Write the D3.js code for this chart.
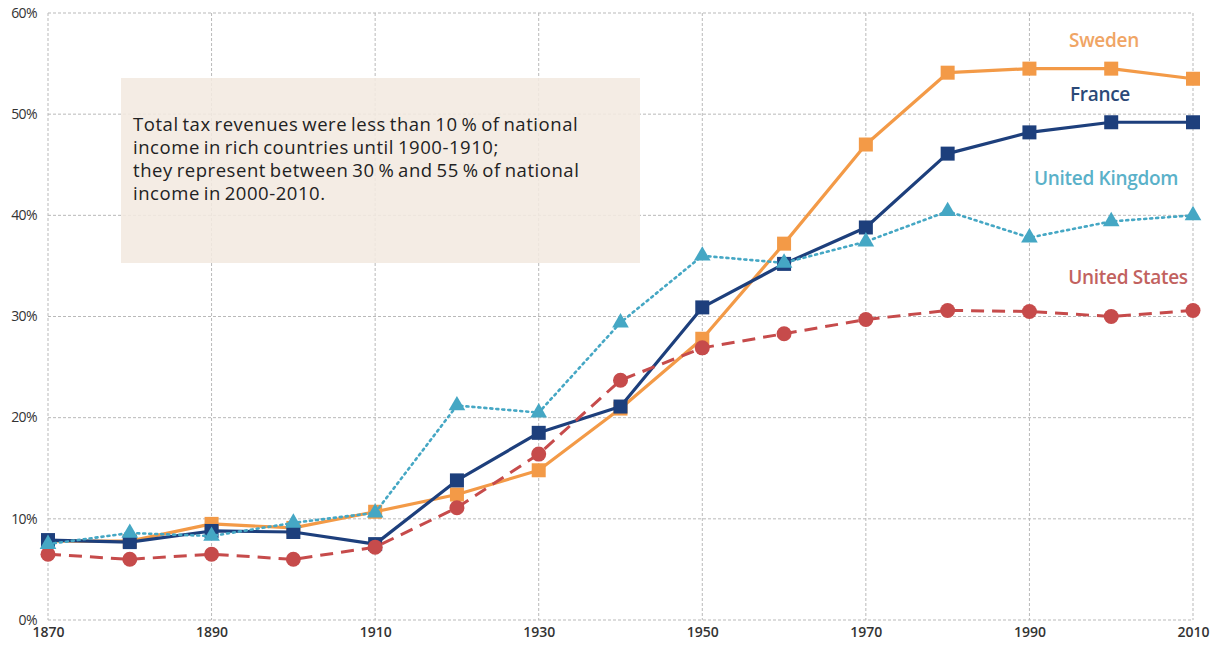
<!DOCTYPE html>
<html>
<head>
<meta charset="utf-8">
<script src="https://cdn.jsdelivr.net/npm/d3@7"></script>
<style>
  html, body { margin: 0; padding: 0; background: #fff; }
  svg { display: block; }
</style>
</head>
<body>
<svg id="chart" width="1211" height="648"></svg>
<script>
// Total tax revenues as a share of national income, 1870-2010
const years = [1870, 1880, 1890, 1900, 1910, 1920, 1930, 1940, 1950, 1960, 1970, 1980, 1990, 2000, 2010];
const sweden = [7.8, 7.8, 9.5, 9.1, 10.7, 12.4, 14.8, 20.9, 27.8, 37.2, 47.0, 54.1, 54.5, 54.5, 53.5];
const france = [7.9, 7.7, 8.8, 8.7, 7.5, 13.8, 18.5, 21.1, 30.9, 35.2, 38.8, 46.1, 48.2, 49.2, 49.2];
const unitedKingdom = [7.5, 8.6, 8.3, 9.6, 10.6, 21.2, 20.5, 29.4, 36.0, 35.3, 37.4, 40.4, 37.8, 39.4, 40.0];
const unitedStates = [6.5, 6.0, 6.5, 6.0, 7.2, 11.1, 16.4, 23.7, 26.9, 28.3, 29.7, 30.6, 30.5, 30.0, 30.6];
const xTicks = [1870, 1890, 1910, 1930, 1950, 1970, 1990, 2010];
const yTicks = [0, 10, 20, 30, 40, 50, 60];
const noteLines = [
  "Total tax revenues were less than 10 % of national",
  "income in rich countries until 1900-1910;",
  "they represent between 30 % and 55 % of national",
  "income in 2000-2010."
];

(function () {
  const series = [
    { name: "Sweden", values: sweden, color: "#f39a47", dash: null, width: 3.2, marker: "square", labelColor: "#f0a565", label: [1104, 47] },
    { name: "France", values: france, color: "#1d3f7c", dash: null, width: 3.2, marker: "square", labelColor: "#2b4978", label: [1100, 101] },
    { name: "United States", values: unitedStates, color: "#c64b4b", dash: "13,8", width: 3, marker: "circle", labelColor: "#c2625f", label: [1128, 284] },
    { name: "United Kingdom", values: unitedKingdom, color: "#45a7c4", dash: "2,4", width: 2.6, marker: "triangle", labelColor: "#5ab1c9", label: [1106, 185] }
  ];

  const svg = d3.select("#chart");
  const plotLeft = 48, plotRight = 1193, plotTop = 13, plotBottom = 620;

  const x = d3.scaleLinear().domain([1870, 2010]).range([plotLeft, plotRight]);
  const y = d3.scaleLinear().domain([0, 60]).range([plotBottom, plotTop]);

  // Grid
  const grid = svg.append("g");
  grid.selectAll(".hg").data(yTicks).join("line")
    .attr("x1", plotLeft).attr("x2", plotRight)
    .attr("y1", d => y(d)).attr("y2", d => y(d))
    .attr("stroke", "#b9b9b9").attr("stroke-width", 1).attr("stroke-dasharray", "3,2");
  grid.selectAll(".vg").data(xTicks).join("line")
    .attr("x1", d => x(d)).attr("x2", d => x(d))
    .attr("y1", plotTop).attr("y2", plotBottom)
    .attr("stroke", "#b9b9b9").attr("stroke-width", 1).attr("stroke-dasharray", "3,2");

  // Axis labels
  const yAxis = d3.axisLeft(y).tickValues(yTicks).tickFormat(d => d + "%").tickSize(0).tickPadding(11);
  svg.append("g").attr("transform", `translate(${plotLeft},0)`).call(yAxis)
    .call(g => g.select(".domain").remove())
    .call(g => g.selectAll("text")
      .attr("font-family", "'Open Sans', sans-serif").attr("font-size", 14)
      .attr("letter-spacing", "-0.6").attr("fill", "#333").attr("dy", "0.3em"));

  const xAxis = d3.axisBottom(x).tickValues(xTicks).tickFormat(d3.format("d")).tickSize(0).tickPadding(7);
  svg.append("g").attr("transform", `translate(0,${plotBottom})`).call(xAxis)
    .call(g => g.select(".domain").remove())
    .call(g => g.selectAll("text")
      .attr("font-family", "'Open Sans', sans-serif").attr("font-size", 14)
      .attr("font-weight", 600).attr("fill", "#333"));

  // Note box
  const note = svg.append("g");
  note.append("rect")
    .attr("x", 121).attr("y", 78).attr("width", 519).attr("height", 185)
    .attr("fill", "#f2e9e0").attr("fill-opacity", 0.88);
  note.append("text")
    .attr("font-family", "'Open Sans', sans-serif").attr("font-size", 18.5)
    .attr("fill", "#222").attr("letter-spacing", "0.55").attr("word-spacing", "-1.5")
    .selectAll("tspan").data(noteLines).join("tspan")
    .attr("x", 133).attr("y", (d, i) => 131 + i * 23).text(d => d);

  // Lines and markers
  const line = d3.line().x((d, i) => x(years[i])).y(d => y(d));
  const markerSize = 14;

  series.forEach(s => {
    const g = svg.append("g");
    g.append("path").datum(s.values)
      .attr("d", line).attr("fill", "none")
      .attr("stroke", s.color).attr("stroke-width", s.width)
      .attr("stroke-dasharray", s.dash)
      .attr("stroke-linecap", s.marker === "triangle" ? "round" : "butt")
      .attr("stroke-linejoin", "round");

    const pts = g.selectAll(".pt").data(s.values).join("g")
      .attr("transform", (d, i) => `translate(${x(years[i])},${y(d)})`);
    if (s.marker === "square") {
      pts.append("rect").attr("x", -markerSize / 2).attr("y", -markerSize / 2)
        .attr("width", markerSize).attr("height", markerSize).attr("fill", s.color);
    } else if (s.marker === "circle") {
      pts.append("circle").attr("r", 7.5).attr("fill", s.color);
    } else {
      pts.append("path").attr("d", d3.symbol(d3.symbolTriangle, 120)()).attr("fill", s.color);
    }

    svg.append("text")
      .attr("x", s.label[0]).attr("y", s.label[1])
      .attr("text-anchor", "middle")
      .attr("font-family", "'Open Sans', sans-serif").attr("font-size", 19)
      .attr("font-weight", 600).attr("letter-spacing", "-0.3")
      .attr("fill", s.labelColor).text(s.name);
  });
})();
</script>
</body>
</html>
